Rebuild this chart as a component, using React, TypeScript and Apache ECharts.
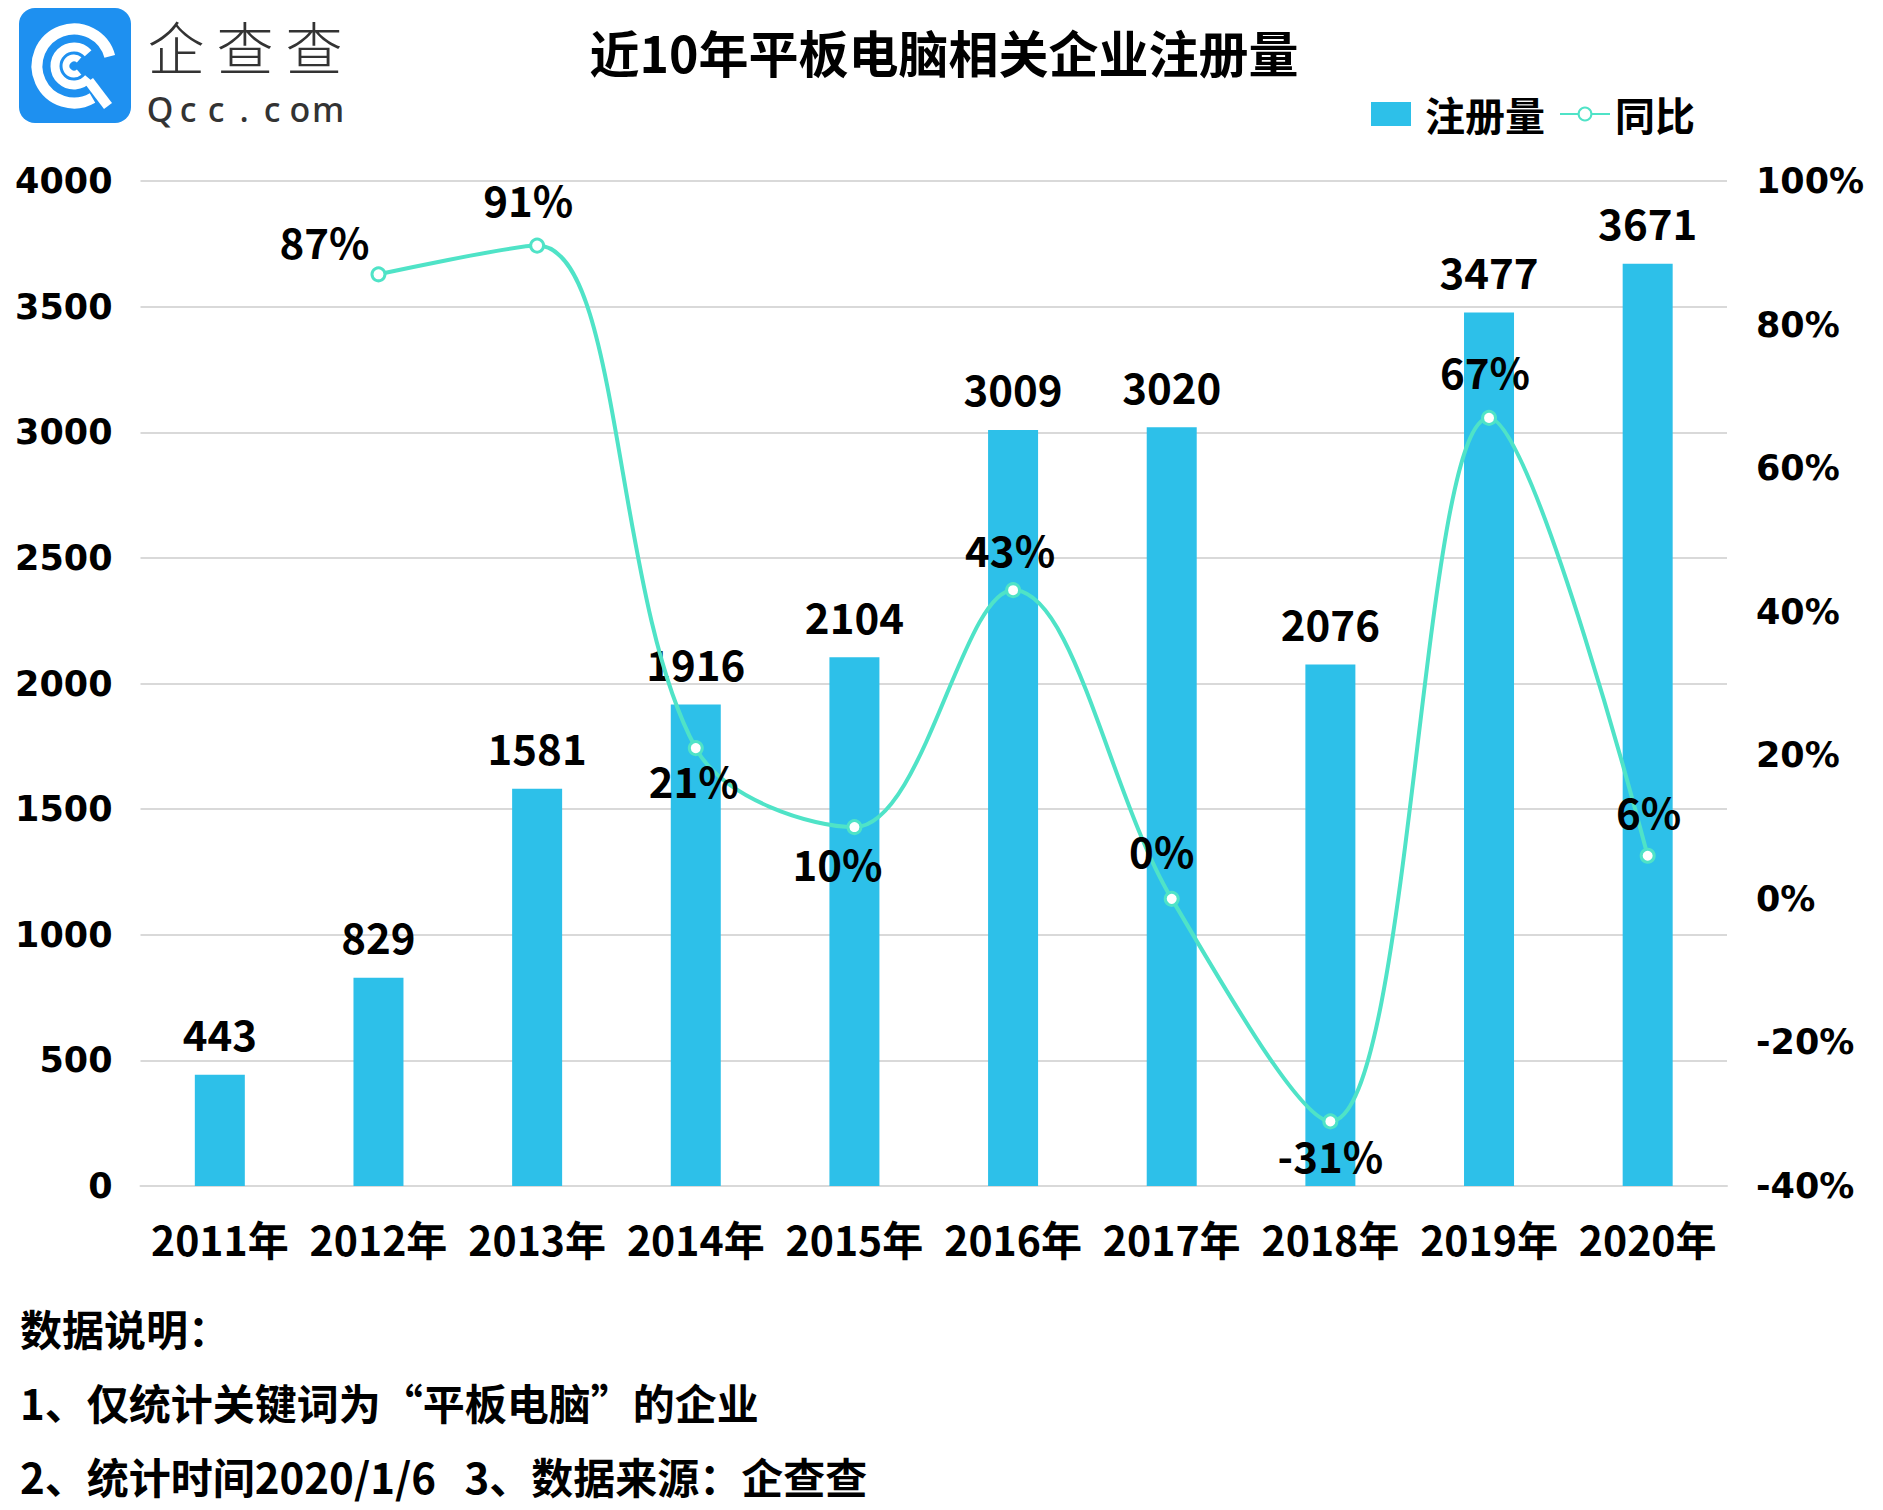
import React, { useEffect, useRef } from "react";
import * as echarts from "echarts";

const categories = ["2011年", "2012年", "2013年", "2014年", "2015年", "2016年", "2017年", "2018年", "2019年", "2020年"];
const registrations = [443, 829, 1581, 1916, 2104, 3009, 3020, 2076, 3477, 3671];
const yoyPercent: (number | null)[] = [null, 87, 91, 21, 10, 43, 0, -31, 67, 6];
const leftAxis = { min: 0, max: 4000, interval: 500 };
const rightAxis = { min: -40, max: 100, interval: 20 };
const titleText = "近10年平板电脑相关企业注册量";
const seriesNames = ["注册量", "同比"];
const notes = ["数据说明：", "1、仅统计关键词为“平板电脑”的企业", "2、统计时间2020/1/6\u00A0\u00A0\u00A03、数据来源：企查查"];
const logoName = ["企", "查", "查"];
const logoSite = ["Q", "c", "c", ".", "c", "o", "m"];

// label placement (style only)
const yoyLabelOffsets: (number[] | null)[] = [null, [-54, -34], [-9, -47], [-2, 31], [-17, 35], [-3, -42], [-10, -49], [0, 33], [-4, -47], [1, -45]];

const CJK = '"Noto Sans CJK SC", "Noto Sans", sans-serif';
const AXISFONT = '"DejaVu Sans", sans-serif';
const BAR = "#2DC0E9";
const LINE = "#4FE3C7";
const LOGO = "#1E90F0";

export default function App() {
  const ref = useRef<HTMLDivElement>(null);
  useEffect(() => {
    document.body.style.margin = "0";
    const chart = echarts.init(ref.current!, null, { renderer: "svg" });
    const deg = (d: number) => (d * Math.PI) / 180;
    const cx = 74, cy = 66;
    const graphic: any[] = [
      { type: "rect", shape: { x: 19, y: 8, width: 112, height: 115, r: 16 }, style: { fill: LOGO } },
      { type: "arc", shape: { cx, cy, r: 37, startAngle: deg(60), endAngle: deg(345), clockwise: true }, style: { stroke: "#fff", lineWidth: 11, fill: "none" } },
      { type: "arc", shape: { cx, cy, r: 19, startAngle: deg(40), endAngle: deg(318), clockwise: true }, style: { stroke: "#fff", lineWidth: 9, fill: "none" } },
      { type: "arc", shape: { cx, cy, r: 8, startAngle: deg(50), endAngle: deg(310), clockwise: true }, style: { stroke: "#fff", lineWidth: 7, fill: "none" } },
      { type: "line", shape: { x1: 89, y1: 81, x2: 108, y2: 106 }, style: { stroke: "#fff", lineWidth: 10 } },
      ...logoName.map((c, i) => ({
        type: "text", x: 176 + i * 69, y: 45,
        style: { text: c, fill: "#333", font: `300 57px ${CJK}`, textAlign: "center", textVerticalAlign: "middle" },
      })),
      ...logoSite.map((c, i) => ({
        type: "text", x: 160 + i * 28, y: 109,
        style: { text: c, fill: "#333", font: `500 34px "Noto Sans", sans-serif`, textAlign: "center", textVerticalAlign: "middle" },
      })),
      {
        type: "text", x: 944, y: 51,
        style: { text: titleText, fill: "#000", font: `bold 50px ${CJK}`, textAlign: "center", textVerticalAlign: "middle" },
      },
      ...notes.map((t, i) => ({
        type: "text", x: 20, y: 1327 + i * 74,
        style: { text: t, fill: "#000", font: `bold 42px ${CJK}`, textAlign: "left", textVerticalAlign: "middle" },
      })),
    ];

    const legendText = { fontSize: 40, fontWeight: "bold", color: "#000", fontFamily: CJK };

    chart.setOption({
      animation: false,
      backgroundColor: "#fff",
      graphic,
      legend: [
        { data: [{ name: seriesNames[0], icon: "rect" }], left: 1366, top: 89, itemWidth: 40, itemHeight: 24, itemGap: 0, textStyle: { ...legendText, padding: [0, 0, 0, 9] } },
        { data: [seriesNames[1]], left: 1554, top: 89, itemWidth: 50, itemHeight: 16, itemGap: 0, textStyle: legendText },
      ],
      grid: { left: 140.5, right: 156, top: 181, bottom: 324, containLabel: false },
      xAxis: {
        type: "category",
        data: categories,
        axisTick: { show: false },
        axisLine: { lineStyle: { color: "#D9D9D9", width: 2 } },
        axisLabel: { color: "#000", fontSize: 41, fontWeight: "bold", fontFamily: CJK, margin: 31, interval: 0 },
      },
      yAxis: [
        {
          type: "value", ...leftAxis,
          axisLine: { show: false }, axisTick: { show: false },
          splitLine: { lineStyle: { color: "#D9D9D9", width: 2 } },
          axisLabel: { color: "#000", fontSize: 35, fontWeight: "bold", fontFamily: AXISFONT, margin: 28, formatter: (v: number) => `${v}` },
        },
        {
          type: "value", ...rightAxis,
          axisLine: { show: false }, axisTick: { show: false },
          splitLine: { show: false },
          axisLabel: { color: "#000", fontSize: 35, fontWeight: "bold", fontFamily: AXISFONT, margin: 29, formatter: (v: number) => `${v}%` },
        },
      ],
      series: [
        {
          name: seriesNames[0],
          type: "bar",
          data: registrations,
          barWidth: 50,
          itemStyle: { color: BAR },
          label: { show: true, position: "top", distance: 21, color: "#000", fontSize: 42, fontWeight: "bold", fontFamily: CJK, lineHeight: 42 },
          z: 2,
        },
        {
          name: seriesNames[1],
          type: "line",
          yAxisIndex: 1,
          smooth: 0.35,
          smoothConstraint: false,
          symbol: "circle",
          symbolSize: 13,
          lineStyle: { color: LINE, width: 4 },
          itemStyle: { color: "#fff", borderColor: LINE, borderWidth: 3 },
          data: yoyPercent.map((v, i) =>
            v === null ? "-" : { value: v, label: { offset: yoyLabelOffsets[i] } }
          ),
          label: {
            show: true, position: "inside", color: "#000", fontSize: 42, fontWeight: "bold", fontFamily: CJK,
            formatter: (p: any) => `${p.value}%`,
          },
          z: 3,
        },
      ],
    });
    return () => chart.dispose();
  }, []);
  return <div ref={ref} style={{ width: 1883, height: 1510 }} />;
}
